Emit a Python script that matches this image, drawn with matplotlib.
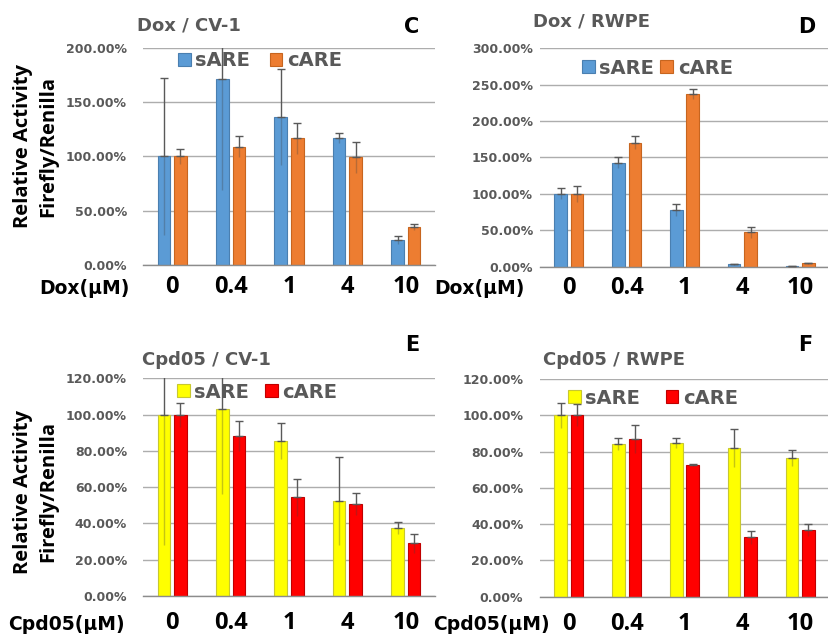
import numpy as np
import matplotlib
matplotlib.use("Agg")
import matplotlib.pyplot as plt
from matplotlib.ticker import FuncFormatter, MultipleLocator

# doses on the x axis
doses = ["0", "0.4", "1", "4", "10"]

# Dox / CV-1  (panel C)
dox_cv1_sare = [100, 171, 136, 116.6, 23]
dox_cv1_sare_err = [72, 102, 44, 4.5, 4]
dox_cv1_care = [100, 109, 116.6, 99, 35]
dox_cv1_care_err = [7, 9.5, 14.5, 14, 2.5]

# Dox / RWPE  (panel D)
dox_rwpe_sare = [100, 143, 78, 3.2, 0.8]
dox_rwpe_sare_err = [7.5, 8, 8, 0.5, 0.3]
dox_rwpe_care = [100, 170, 236.8, 47, 4.5]
dox_rwpe_care_err = [11, 9, 7, 7, 0.8]

# Cpd05 / CV-1  (panel E)
cpd_cv1_sare = [100, 103, 85.6, 52.5, 37.7]
cpd_cv1_sare_err = [72, 47, 10, 24.3, 3.3]
cpd_cv1_care = [100, 88.4, 54.4, 50.7, 29]
cpd_cv1_care_err = [6.6, 8.3, 10.3, 6, 5.3]

# Cpd05 / RWPE  (panel F)
cpd_rwpe_sare = [100, 84.2, 84.9, 81.8, 76.6]
cpd_rwpe_sare_err = [7, 3.5, 2.8, 10.5, 4.3]
cpd_rwpe_care = [100, 86.8, 72.6, 32.7, 36.6]
cpd_rwpe_care_err = [6, 7.7, 0.7, 3.7, 3.3]

W, H = 829, 636
fig = plt.figure(figsize=(W / 100, H / 100), dpi=100)

GRAY = "#595959"
BOLD_WIDE = "DejaVu Sans"
BOLD_NARROW = "Open Sans"


def px_axes(x0, y_top, x1, y_bot):
    return fig.add_axes([x0 / W, 1 - y_bot / H, (x1 - x0) / W, (y_bot - y_top) / H])


def draw_panel(ax, s_vals, s_err, c_vals, c_err, s_col, c_col, ymax, ystep, ypad, xpad):
    x = np.arange(len(doses))
    w, off = 0.215, 0.142
    ax.bar(x - off, s_vals, w, color=s_col[0], edgecolor=s_col[1], lw=0.8, zorder=2)
    ax.bar(x + off, c_vals, w, color=c_col[0], edgecolor=c_col[1], lw=0.8, zorder=2)
    for xs, v, e in [(x - off, s_vals, s_err), (x + off, c_vals, c_err)]:
        e = np.array(e)
        # upper part of the error bar, drawn over the bars
        ax.errorbar(xs, v, yerr=[np.zeros_like(e), e], fmt="none", ecolor=GRAY,
                    elinewidth=1, capsize=3, capthick=1, zorder=3)
        # lower part shows faintly through the bar
        ax.errorbar(xs, v, yerr=[e, np.zeros_like(e)], fmt="none", ecolor="#404040",
                    elinewidth=1, capsize=0, alpha=0.3, zorder=3)
    ax.set_xlim(-0.5, len(doses) - 0.5)
    ax.set_ylim(0, ymax)
    ax.yaxis.set_major_locator(MultipleLocator(ystep))
    ax.yaxis.set_major_formatter(FuncFormatter(lambda v, p: f"{v:.2f}%"))
    ax.grid(axis="y", color="#ADADAD", lw=1, zorder=0)
    ax.set_axisbelow(True)
    for s in ["left", "right", "top"]:
        ax.spines[s].set_visible(False)
    ax.spines["bottom"].set_color("#8C8C8C")
    ax.spines["bottom"].set_linewidth(1)
    ax.tick_params(axis="y", length=0, pad=ypad, labelsize=9, labelcolor=GRAY)
    ax.tick_params(axis="x", length=0, pad=xpad)
    for t in ax.get_yticklabels():
        t.set_fontweight("bold")
    ax.set_xticks(x)
    ax.set_xticklabels(doses, fontsize=17, fontweight="bold", family=BOLD_NARROW)


def legend(ax, x, y, colors, spacing):
    handles = [plt.Rectangle((0, 0), 1, 1, facecolor=c[0], edgecolor=c[1], lw=0.8) for c in colors]
    leg = ax.legend(handles, ["sARE", "cARE"], ncol=2, frameon=False, loc="center left",
                    bbox_to_anchor=(x / W, 1 - y / H), bbox_transform=fig.transFigure,
                    borderpad=0, borderaxespad=0, handlelength=0.65, handleheight=0.65,
                    handletextpad=0.25, columnspacing=spacing,
                    prop={"family": BOLD_WIDE, "weight": "bold", "size": 14})
    for t in leg.get_texts():
        t.set_color(GRAY)


blue = ("#5B9BD5", "#4A7FB0")
orange = ("#ED7D31", "#C7651F")
yellow = ("#FFFF00", "#C8C830")
red = ("#FF0000", "#C00000")

axC = px_axes(143, 47.7, 435, 265)
draw_panel(axC, dox_cv1_sare, dox_cv1_sare_err, dox_cv1_care, dox_cv1_care_err,
           blue, orange, 200, 50, 11.5, 7)
legend(axC, 178, 61, [blue, orange], 1.0)

axD = px_axes(540, 48.3, 829, 266.7)
draw_panel(axD, dox_rwpe_sare, dox_rwpe_sare_err, dox_rwpe_care, dox_rwpe_care_err,
           blue, orange, 300, 50, 5, 7)
legend(axD, 582, 68, [blue, orange], 0.3)

axE = px_axes(143, 378.3, 435, 596)
draw_panel(axE, cpd_cv1_sare, cpd_cv1_sare_err, cpd_cv1_care, cpd_cv1_care_err,
           yellow, red, 120, 20, 11.5, 11)
legend(axE, 177, 392, [yellow, red], 0.8)

axF = px_axes(540, 379, 829, 596.7)
draw_panel(axF, cpd_rwpe_sare, cpd_rwpe_sare_err, cpd_rwpe_care, cpd_rwpe_care_err,
           yellow, red, 120, 20, 12, 11)
legend(axF, 568, 398, [yellow, red], 1.3)


def ftext(x, y, s, **kw):
    fig.text(x / W, 1 - y / H, s, **kw)


# panel titles
for x, y, s in [(137, 25, "Dox / CV-1"), (533, 22, "Dox / RWPE"),
                (142, 360, "Cpd05 / CV-1"), (543, 360, "Cpd05 / RWPE")]:
    ftext(x, y, s, fontsize=13, fontweight="bold", color=GRAY, family=BOLD_WIDE,
          ha="left", va="center")

# panel letters
for x, y, s in [(412, 27, "C"), (807, 27, "D"), (412, 345, "E"), (805, 345, "F")]:
    ftext(x, y, s, fontsize=15, fontweight="bold", color="black", family=BOLD_WIDE,
          ha="center", va="center")

# x axis names
for x, y, s in [(130, 288, "Dox(\u03bcM)"), (525, 288, "Dox(\u03bcM)"),
                (125, 625, "Cpd05(\u03bcM)"), (550, 625, "Cpd05(\u03bcM)")]:
    ftext(x, y, s, fontsize=13.5, fontweight="bold", color="black", family=BOLD_WIDE,
          ha="right", va="center")

# y axis labels
for y in [146, 492]:
    ftext(36, y, "Relative Activity\nFirefly/Renilla", fontsize=14.5, fontweight="bold",
          family=BOLD_NARROW, rotation=90, ha="center", va="center",
          multialignment="center", linespacing=1.35)

fig.savefig("out.png", dpi=100)
